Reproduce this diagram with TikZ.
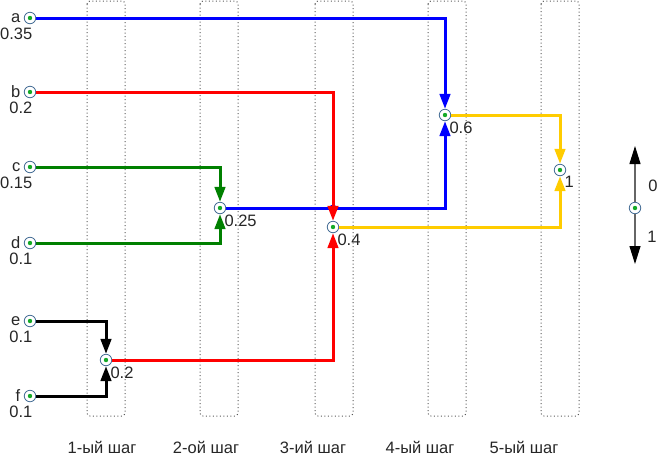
\documentclass[tikz,border=0pt]{standalone}
\usepackage{fontspec}
\setmainfont{Liberation Sans}
\usepackage{xcolor}
\usetikzlibrary{positioning,arrows.meta,calc}

\definecolor{cblue}{RGB}{0,0,255}
\definecolor{cred}{RGB}{255,0,0}
\definecolor{cgreen}{RGB}{0,128,0}
\definecolor{cyellow}{RGB}{255,204,0}
\definecolor{ringblue}{RGB}{70,110,150}
\definecolor{dotgreen}{RGB}{20,170,40}

\begin{document}
\begin{tikzpicture}[
          x=1pt, y=-1pt,
          vtx/.style={circle, draw=ringblue, line width=0.8pt, fill=white, minimum size=11.5pt, inner sep=0pt,
            path picture={\fill[dotgreen] (path picture bounding box.center) circle (2.2pt);}},
          lbl/.style={font=\fontsize{16.5}{19}\selectfont, text=black!85},
          wgt/.style={lbl, anchor=north east, inner sep=0pt, xshift=2.5pt, yshift=-4pt},
          sumlbl/.style={lbl, anchor=north west, inner sep=0pt, xshift=0pt, yshift=-2pt},
          flow/.style={line width=3pt, -{Triangle[length=15pt, width=10.5pt]}},
          lane/.style={draw=gray!70!black, line width=1pt, dash pattern=on 1pt off 2.5pt, rounded corners=3pt},
          keyarr/.style={draw=gray!80!black, line width=1.1pt, -{Triangle[length=18pt, width=11pt, color=black]}}
      ]
        \useasboundingbox (0,0) rectangle (659,459);

        % steps
        \foreach \x in {106,219,334,447,560}
          \draw[lane] (\x-19,1) rectangle (\x+19,416);
        \foreach \i/\x/\t in {1/102/1-ый шаг, 2/206/2-ой шаг, 3/313/3-ий шаг, 4/420/4-ый шаг, 5/524/5-ый шаг}
          \node[lbl] (s\i) at (\x,447) {\t};

        % letters
        \node[vtx, label={[lbl]left:a}, label={[wgt]south:0.35}] (a) at (30,18) {};
        \node[vtx, label={[lbl]left:b}, label={[wgt]south:0.2}] (b) at (30,92) {};
        \node[vtx, label={[lbl]left:c}, label={[wgt]south:0.15}] (c) at (30,167) {};
        \node[vtx, label={[lbl]left:d}, label={[wgt]south:0.1}] (d) at (30,243) {};
        \node[vtx, label={[lbl]left:e}, label={[wgt]south:0.1}] (e) at (30,321) {};
        \node[vtx, label={[lbl]left:f}, label={[wgt]south:0.1}] (f) at (30,396) {};

        % merged
        \node[vtx, label={[sumlbl]south east:0.2}] (n1) at (106,360) {};
        \node[vtx, label={[sumlbl]south east:0.25}] (n2) at (220,208) {};
        \node[vtx, label={[sumlbl]south east:0.4}] (n3) at (333,227) {};
        \node[vtx, label={[sumlbl]south east:0.6}] (n4) at (445,115) {};
        \node[vtx, label={[sumlbl]south east:1}] (n5) at (560,170) {};

        \draw[flow, cblue] (a) -| (n4);
        \draw[flow, cgreen] (c) -| (n2);
        \draw[flow, cgreen] (d) -| (n2);
        \draw[flow, black] (e) -| (n1);
        \draw[flow, black] (f) -| (n1);
        \draw[flow, cblue] (n2) -| (n4);
        \fill[cblue] (n3 |- n2) circle (3.5pt);
        \draw[flow, cred] (b) -| (n3);
        \draw[flow, cred] (n1) -| (n3);
        \draw[flow, cyellow] (n3) -| (n5);
        \draw[flow, cyellow] (n4) -| (n5);

        % key
        \node[vtx] (key) at (635,208) {};
        \coordinate (keyup) at (635,146);
        \coordinate (keydn) at (635,264);
        \draw[keyarr] (key) -- (keyup);
        \draw[keyarr] (key) -- (keydn);
        \node[lbl] (k0) at (653,186) {0};
        \node[lbl] (k1) at (652,237) {1};
      \end{tikzpicture}
\end{document}
